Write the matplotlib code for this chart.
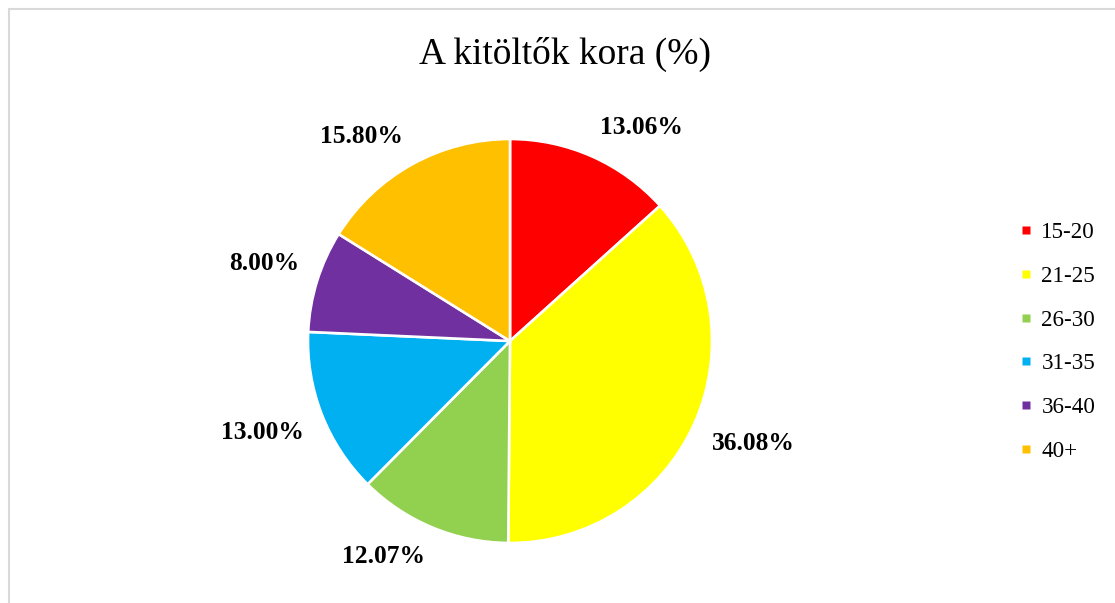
import numpy as np
import matplotlib.pyplot as plt
from matplotlib.patches import Rectangle
from matplotlib.lines import Line2D

# data
age_groups = ["15-20", "21-25", "26-30", "31-35", "36-40", "40+"]
shares = [13.06, 36.08, 12.07, 13.00, 8.00, 15.80]
slice_colors = ["#FF0000", "#FFFF00", "#92D050", "#00B0F0", "#7030A0", "#FFC000"]
title_text = "A kitöltők kora (%)"

plt.rcParams['font.family'] = ['Liberation Serif', 'DejaVu Serif']

W, H = 1115, 603
fig = plt.figure(figsize=(W / 100, H / 100), dpi=100)
fig.patch.set_facecolor("white")

# light grey chart frame (right/bottom run off the image)
fig.patches.append(Rectangle((8.5 / W, -0.1), 1.2, 1.1 - 8.5 / H,
                             transform=fig.transFigure, fill=False,
                             edgecolor="#D9D9D9", linewidth=1.5))

cx, cy, r = 510, 341, 202
ax = fig.add_axes([(cx - r) / W, (H - cy - r) / H, 2 * r / W, 2 * r / H])

wedges, _ = ax.pie(shares, colors=slice_colors, startangle=90, counterclock=False,
                   radius=1.0, wedgeprops=dict(edgecolor="white", linewidth=1.9))
ax.set_xlim(-1, 1)
ax.set_ylim(-1, 1)
ax.set_aspect("equal")
ax.axis("off")

# outside-end labels, anchored at the slice edge like Excel
for w, v in zip(wedges, shares):
    mid = np.deg2rad((w.theta1 + w.theta2) / 2)
    x, y = np.cos(mid), np.sin(mid)
    ha = "left" if x >= 0 else "right"
    va = "bottom" if y >= 0 else "top"
    ax.text(1.095 * x, 1.095 * y, f"{v:.2f}%", ha=ha, va=va,
            fontsize=18.4, fontweight="bold", color="black", clip_on=False)

fig.text(0.507, 1 - 54 / H, title_text, ha="center", va="center", fontsize=27)

handles = [Line2D([], [], linestyle="none", marker="s", markersize=6,
                  markerfacecolor=c, markeredgecolor="none") for c in slice_colors]
leg = fig.legend(handles, age_groups, loc="center left",
                 bbox_to_anchor=(1008 / W, 1 - 342 / H), frameon=False,
                 fontsize=16.6, handlelength=0.6, handletextpad=0.35,
                 labelspacing=0.98, borderpad=0)

fig.savefig("out.png", dpi=100)
